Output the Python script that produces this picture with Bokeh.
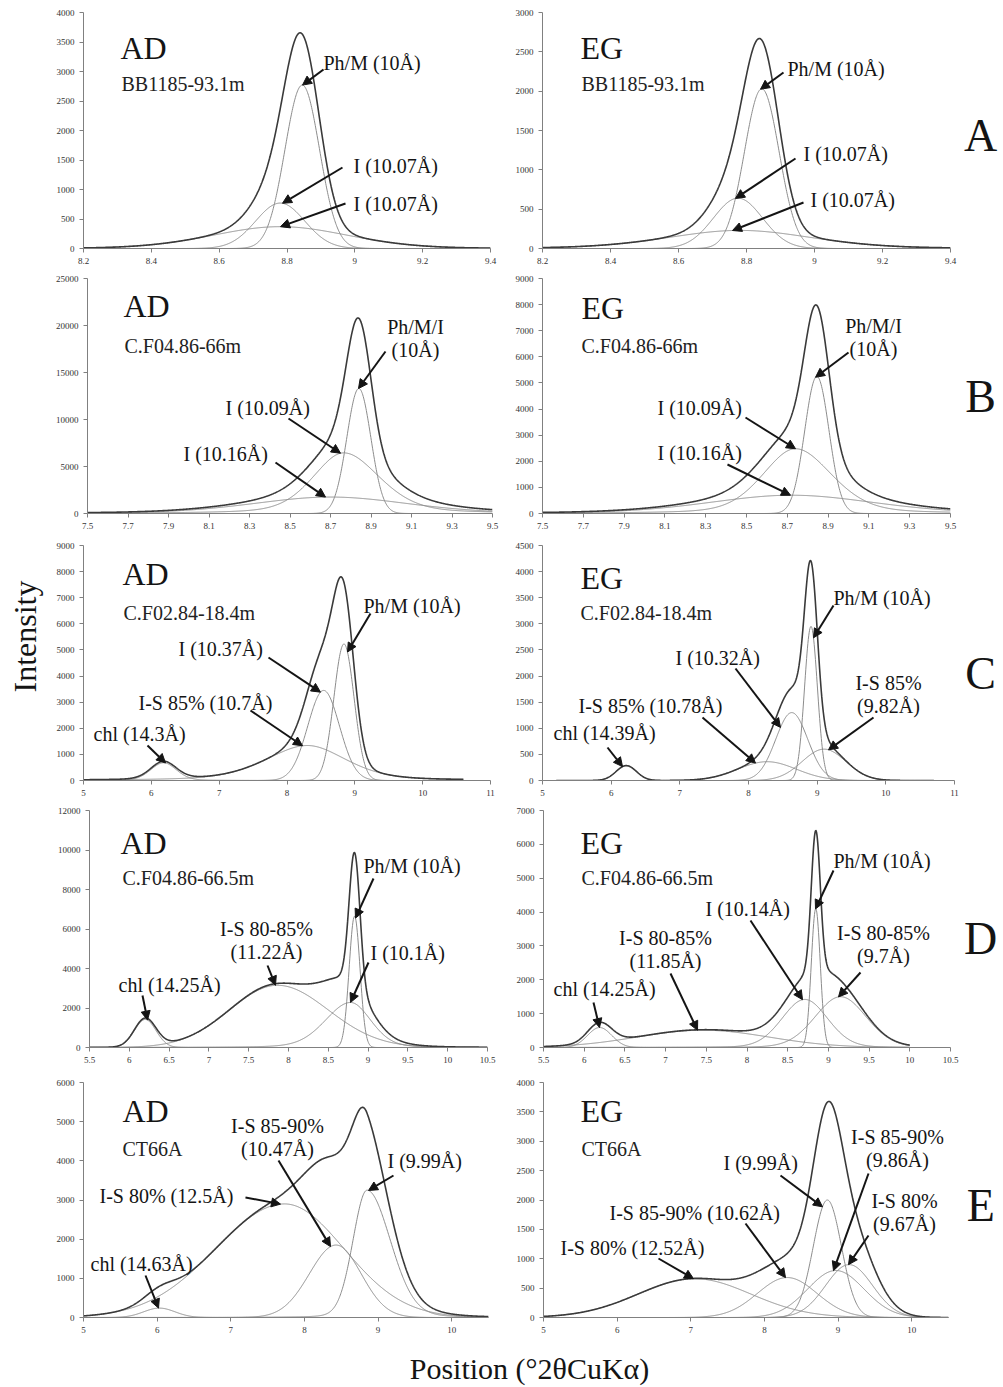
import numpy as np
from bokeh.plotting import figure
from bokeh.layouts import column, row
from bokeh.models import (Range1d, FixedTicker, NumeralTickFormatter, Arrow,
                          NormalHead, ColumnDataSource, Label)
from bokeh.core.properties import value
from bokeh.embed import file_html
from bokeh.resources import INLINE

SERIF = "Liberation Serif"

# ---------------------------------------------------------------------------
# Fitted peak components per sample: (position °2θ, height, FWHM left side,
# FWHM right side, Lorentzian fraction).  AD = air dried, EG = glycolated.
# ---------------------------------------------------------------------------

# Sample A -----------------------------------------------------------------
A_SAMPLE = "BB1185-93.1m"
A_X_RANGE = (8.2, 9.4)
A_X_TICKS = [8.2, 8.4, 8.6, 8.8, 9.0, 9.2, 9.4]
A_AD_SCAN = (8.2, 9.4)
A_AD_Y_TICKS = [0, 500, 1000, 1500, 2000, 2500, 3000, 3500, 4000]
A_AD_LABELS = ["Ph/M (10Å)", "I (10.07Å)", "I (10.07Å)"]
A_AD_PEAKS = [(8.845, 2770, 0.12, 0.12, 0.0),
              (8.78, 770, 0.17, 0.17, 0.0),
              (8.78, 370, 0.47, 0.47, 0.1)]
A_EG_SCAN = (8.2, 9.4)
A_EG_Y_TICKS = [0, 500, 1000, 1500, 2000, 2500, 3000]
A_EG_LABELS = ["Ph/M (10Å)", "I (10.07Å)", "I (10.07Å)"]
A_EG_PEAKS = [(8.845, 2030, 0.12, 0.12, 0.0),
              (8.775, 640, 0.17, 0.17, 0.0),
              (8.78, 230, 0.50, 0.50, 0.2)]

# Sample B -----------------------------------------------------------------
B_SAMPLE = "C.F04.86-66m"
B_X_RANGE = (7.5, 9.5)
B_X_TICKS = [7.5, 7.7, 7.9, 8.1, 8.3, 8.5, 8.7, 8.9, 9.1, 9.3, 9.5]
B_AD_SCAN = (7.5, 9.5)
B_AD_Y_TICKS = [0, 5000, 10000, 15000, 20000, 25000]
B_AD_LABELS = ["Ph/M/I\n(10Å)", "I (10.09Å)", "I (10.16Å)"]
B_AD_PEAKS = [(8.84, 13300, 0.14, 0.14, 0.0),
              (8.765, 6450, 0.36, 0.42, 0.35),
              (8.70, 1750, 0.90, 0.90, 0.2)]
B_EG_SCAN = (7.5, 9.5)
B_EG_Y_TICKS = [0, 1000, 2000, 3000, 4000, 5000, 6000, 7000, 8000, 9000]
B_EG_LABELS = ["Ph/M/I\n(10Å)", "I (10.09Å)", "I (10.16Å)"]
B_EG_PEAKS = [(8.845, 5250, 0.14, 0.14, 0.0),
              (8.74, 2480, 0.38, 0.42, 0.3),
              (8.72, 700, 0.95, 0.95, 0.2)]

# Sample C -----------------------------------------------------------------
C_SAMPLE = "C.F02.84-18.4m"
C_X_RANGE = (5, 11)
C_X_TICKS = [5, 6, 7, 8, 9, 10, 11]
C_AD_SCAN = (5.0, 10.6)
C_AD_Y_TICKS = [0, 1000, 2000, 3000, 4000, 5000, 6000, 7000, 8000, 9000]
C_AD_LABELS = ["Ph/M (10Å)", "I (10.37Å)", "I-S 85% (10.7Å)", "chl (14.3Å)"]
C_AD_PEAKS = [(8.84, 5230, 0.35, 0.35, 0.0),
              (8.54, 3450, 0.55, 0.55, 0.0),
              (8.30, 1340, 1.45, 1.35, 0.4),
              (6.18, 680, 0.45, 0.45, 0.2)]
C_EG_SCAN = (5.2, 10.7)
C_EG_Y_TICKS = [0, 500, 1000, 1500, 2000, 2500, 3000, 3500, 4000, 4500]
C_EG_LABELS = ["Ph/M (10Å)", "I (10.32Å)", "I-S 85%\n(9.82Å)",
               "I-S 85% (10.78Å)", "chl (14.39Å)"]
C_EG_PEAKS = [(8.91, 2950, 0.22, 0.22, 0.0),
              (8.63, 1300, 0.55, 0.55, 0.0),
              (9.10, 600, 0.75, 0.75, 0.0),
              (8.27, 360, 1.00, 1.00, 0.0),
              (6.22, 285, 0.35, 0.35, 0.0)]

# Sample D -----------------------------------------------------------------
D_SAMPLE = "C.F04.86-66.5m"
D_X_RANGE = (5.5, 10.5)
D_X_TICKS = [5.5, 6, 6.5, 7, 7.5, 8, 8.5, 9, 9.5, 10, 10.5]
D_AD_SCAN = (5.5, 10.5)
D_AD_Y_TICKS = [0, 2000, 4000, 6000, 8000, 10000, 12000]
D_AD_LABELS = ["Ph/M (10Å)", "I (10.1Å)", "I-S 80-85%\n(11.22Å)", "chl (14.25Å)"]
D_AD_PEAKS = [(8.83, 6650, 0.16, 0.16, 0.0),
              (8.78, 2280, 0.75, 0.60, 0.2),
              (7.86, 3150, 1.40, 1.50, 0.0),
              (6.20, 1420, 0.32, 0.32, 0.0)]
D_EG_SCAN = (5.5, 10.0)
D_EG_Y_TICKS = [0, 1000, 2000, 3000, 4000, 5000, 6000, 7000]
D_EG_LABELS = ["Ph/M (10Å)", "I (10.14Å)", "I-S 80-85%\n(9.7Å)",
               "I-S 80-85%\n(11.85Å)", "chl (14.25Å)"]
D_EG_PEAKS = [(8.845, 4100, 0.13, 0.13, 0.0),
              (8.71, 1420, 0.66, 0.66, 0.1),
              (9.15, 1500, 0.74, 0.74, 0.1),
              (7.46, 510, 1.90, 1.90, 0.0),
              (6.19, 590, 0.35, 0.35, 0.0)]

# Sample E -----------------------------------------------------------------
E_SAMPLE = "CT66A"
E_X_RANGE = (5, 10.5)
E_X_TICKS = [5, 6, 7, 8, 9, 10]
E_AD_SCAN = (5.0, 10.5)
E_AD_Y_TICKS = [0, 1000, 2000, 3000, 4000, 5000, 6000]
E_AD_LABELS = ["I (9.99Å)", "I-S 85-90%\n(10.47Å)", "I-S 80% (12.5Å)", "chl (14.63Å)"]
E_AD_PEAKS = [(8.85, 3250, 0.45, 0.75, 0.1),
              (8.43, 1850, 0.85, 0.80, 0.0),
              (7.73, 2900, 2.20, 1.90, 0.0),
              (6.03, 240, 0.50, 0.50, 0.0)]
E_EG_SCAN = (5.0, 10.5)
E_EG_Y_TICKS = [0, 500, 1000, 1500, 2000, 2500, 3000, 3500, 4000]
E_EG_LABELS = ["I (9.99Å)", "I-S 85-90%\n(9.86Å)", "I-S 80%\n(9.67Å)",
               "I-S 85-90% (10.62Å)", "I-S 80% (12.52Å)"]
E_EG_PEAKS = [(8.855, 2000, 0.45, 0.45, 0.0),
              (8.97, 800, 0.90, 0.90, 0.0),
              (9.15, 900, 0.75, 0.75, 0.0),
              (8.31, 680, 0.95, 0.95, 0.0),
              (7.05, 660, 1.80, 1.80, 0.0)]

ROW_LETTERS = ["A", "B", "C", "D", "E"]
Y_TITLE = "Intensity"
X_TITLE = "Position (°2θCuKα)"

# ---------------------------------------------------------------------------
# Page layout (pixels).  Rows: border top, frame height, border bottom,
# letter position (fraction of row height from the bottom).
# ---------------------------------------------------------------------------
ROW_LAYOUT = {
    "A": dict(top=12, fh=236, bottom=22, letter_y=0.478),
    "B": dict(top=8, fh=235, bottom=22, letter_y=0.498),
    "C": dict(top=10, fh=235, bottom=21, letter_y=0.455),
    "D": dict(top=9, fh=237, bottom=21, letter_y=0.461),
    "E": dict(top=14, fh=235, bottom=23, letter_y=0.478),
}
TITLE_WIDTH = 46
AD_WIDTH, EG_WIDTH, LETTER_WIDTH, BOTTOM_HEIGHT = 464, 450, 43, 47
Y_TITLE_CENTER = (24, 636)   # px, within the left strip / page

# Annotation layout per panel, offsets in px from the frame's top-left corner.
# note = (component index, text anchor, text align, arrow tail, arrow tip x)
PANEL_LAYOUT = {
    "A_AD": dict(left=37, fw=407, head=(37, 35), sample=(38, 71), notes=[
        (0, (240, 50), "left", (240, 57), 219),
        (1, (270, 153), "left", (259, 155), 199),
        (2, (270, 191), "left", (262, 191), 197)]),
    "A_EG": dict(left=32, fw=408, head=(38, 35), sample=(39, 71), notes=[
        (0, (245, 56), "left", (241, 60), 218),
        (1, (261, 141), "left", (253, 146), 193),
        (2, (268, 187), "left", (261, 190), 190)]),
    "B_AD": dict(left=41, fw=405, head=(36, 27), sample=(37, 67), notes=[
        (0, (328, 48), "center", (298, 73), 271),
        (1, (138, 129), "left", (201, 140), 253),
        (2, (96, 175), "left", (188, 184), 238)]),
    "B_EG": dict(left=32, fw=408, head=(39, 29), sample=(39, 67), notes=[
        (0, (331, 47), "center", (306, 74), 273),
        (1, (115, 129), "left", (203, 139), 253),
        (2, (115, 174), "left", (185, 186), 248)]),
    "C_AD": dict(left=37, fw=407, head=(39, 28), sample=(40, 67), notes=[
        (0, (280, 60), "left", (287, 68), 264),
        (1, (95, 103), "left", (185, 112), 237),
        (2, (55, 157), "left", (167, 165), 219),
        (3, (10, 188), "left", (64, 200), 82)]),
    "C_EG": dict(left=32, fw=412, head=(38, 32), sample=(38, 67), notes=[
        (0, (291, 52), "left", (291, 60), 271),
        (1, (133, 112), "left", (193, 123), 238),
        (2, (346, 137), "center", (331, 172), 286),
        (3, (36, 160), "left", (160, 172), 213),
        (4, (11, 187), "left", (65, 202), 80)]),
    "D_AD": dict(left=43, fw=398, head=(31, 32), sample=(33, 67), notes=[
        (0, (274, 55), "left", (284, 68), 266),
        (1, (281, 142), "left", (279, 152), 261),
        (2, (177, 118), "center", (178, 155), 186),
        (3, (29, 174), "left", (53, 185), 58)]),
    "D_EG": dict(left=33, fw=407, head=(37, 32), sample=(38, 67), notes=[
        (0, (290, 50), "left", (290, 60), 272),
        (1, (162, 98), "left", (207, 110), 259),
        (2, (340, 122), "center", (317, 162), 295),
        (3, (122, 127), "center", (127, 163), 154),
        (4, (10, 178), "left", (50, 192), 56)]),
    "E_AD": dict(left=37, fw=405, head=(39, 28), sample=(39, 66), notes=[
        (0, (304, 78), "left", (310, 93), 285),
        (1, (194, 43), "center", (195, 78), 247),
        (2, (16, 113), "left", (162, 115), 197),
        (3, (7, 181), "left", (62, 193), 75)]),
    "E_EG": dict(left=33, fw=405, head=(37, 28), sample=(38, 66), notes=[
        (0, (180, 80), "left", (237, 93), 279),
        (1, (354, 54), "center", (325, 91), 290),
        (2, (361, 118), "center", (325, 153), 305),
        (3, (66, 130), "left", (202, 141), 242),
        (4, (17, 165), "left", (115, 176), 150)]),
}

LINE_GAP = 23
TOTAL_COLOR = "#3a3a3a"
COMP_COLOR = "#8c8c8c"
AXIS_COLOR = "#808080"
INK = "#141414"


def profile(x, pos, height, fwhm_l, fwhm_r, eta):
    """Split pseudo-Voigt peak."""
    w = np.where(x < pos, fwhm_l, fwhm_r)
    u = 2.0 * (x - pos) / w
    return height * ((1.0 - eta) * np.exp(-np.log(2.0) * u * u) + eta / (1.0 + u * u))


def style_axis(ax, ticks, fmt):
    ax.ticker = FixedTicker(ticks=ticks)
    ax.formatter = NumeralTickFormatter(format=fmt)
    ax.axis_line_color = AXIS_COLOR
    ax.major_tick_line_color = AXIS_COLOR
    ax.major_tick_out = 4
    ax.major_tick_in = 0
    ax.minor_tick_line_color = None
    ax.major_label_text_font = SERIF
    ax.major_label_text_font_size = "9px"
    ax.major_label_text_color = "#333333"
    ax.major_label_standoff = 5


def blank_figure(width, height):
    p = figure(width=width, height=height, x_range=Range1d(0, width),
               y_range=Range1d(0, height), x_axis_type=None, y_axis_type=None,
               min_border=0, output_backend="svg", toolbar_location=None)
    p.outline_line_color = None
    p.grid.visible = False
    return p


def make_panel(key, head, sample, x_range, x_ticks, y_ticks, scan, peaks, labels,
               rowkey, total_width):
    lay = PANEL_LAYOUT[key]
    rl = ROW_LAYOUT[rowkey]
    fh = rl["fh"]
    p = figure(frame_width=lay["fw"], frame_height=fh,
               x_range=Range1d(*x_range), y_range=Range1d(0, y_ticks[-1]),
               min_border_left=lay["left"],
               min_border_right=total_width - lay["left"] - lay["fw"],
               min_border_top=rl["top"], min_border_bottom=rl["bottom"],
               output_backend="svg", toolbar_location=None)
    p.outline_line_color = None
    p.xgrid.visible = False
    p.ygrid.visible = False
    style_axis(p.xaxis[0], x_ticks, "0.[0]")
    style_axis(p.yaxis[0], y_ticks, "0")

    x0, x1 = x_range
    ymax = y_ticks[-1]

    def fx(dx):
        return x0 + dx / lay["fw"] * (x1 - x0)

    def fy(dy):
        return ymax - dy / fh * ymax

    xs = np.linspace(scan[0], scan[1], 900)
    comps = [profile(xs, *pk) for pk in peaks]
    for c in comps:
        p.line(xs, c, line_color=COMP_COLOR, line_width=1.0)
    p.line(xs, np.sum(comps, axis=0), line_color=TOTAL_COLOR, line_width=1.6)

    # panel heading and sample name
    p.text(x=[fx(lay["head"][0])], y=[fy(lay["head"][1])], text=[head],
           text_font=value(SERIF), text_font_size="32px", text_color=INK,
           text_align="left", text_baseline="middle")
    p.text(x=[fx(lay["sample"][0])], y=[fy(lay["sample"][1])], text=[sample],
           text_font=value(SERIF), text_font_size="20px", text_color="#222222",
           text_align="left", text_baseline="middle")

    # component labels with arrows
    tx, ty, tt, ta = [], [], [], []
    for idx, (ax_, ay_), align, (tlx, tly), tip_dx in lay["notes"]:
        for i, line in enumerate(labels[idx].split("\n")):
            tx.append(fx(ax_))
            ty.append(fy(ay_ + i * LINE_GAP))
            tt.append(line)
            ta.append(align)
        tip_x = fx(tip_dx)
        tip_y = float(profile(np.array([tip_x]), *peaks[idx])[0])
        p.add_layout(Arrow(x_start=fx(tlx), y_start=fy(tly), x_end=tip_x, y_end=tip_y,
                           line_color=INK, line_width=2,
                           end=NormalHead(size=9, fill_color=INK, line_color=INK)))
    src = ColumnDataSource(dict(x=tx, y=ty, text=tt, align=ta))
    p.text(x="x", y="y", text="text", text_align="align", source=src,
           text_font=value(SERIF), text_font_size="20px", text_color=INK,
           text_baseline="middle")
    return p


def letter_panel(letter, rowkey):
    rl = ROW_LAYOUT[rowkey]
    h = rl["top"] + rl["fh"] + rl["bottom"]
    p = blank_figure(LETTER_WIDTH, h)
    p.text(x=[0.47 * LETTER_WIDTH], y=[rl["letter_y"] * h], text=[letter],
           text_font=value(SERIF), text_font_size="46px", text_color=INK,
           text_align="center", text_baseline="middle")
    return p


SAMPLES = {
    "A": (A_SAMPLE, A_X_RANGE, A_X_TICKS,
          (A_AD_Y_TICKS, A_AD_SCAN, A_AD_PEAKS, A_AD_LABELS),
          (A_EG_Y_TICKS, A_EG_SCAN, A_EG_PEAKS, A_EG_LABELS)),
    "B": (B_SAMPLE, B_X_RANGE, B_X_TICKS,
          (B_AD_Y_TICKS, B_AD_SCAN, B_AD_PEAKS, B_AD_LABELS),
          (B_EG_Y_TICKS, B_EG_SCAN, B_EG_PEAKS, B_EG_LABELS)),
    "C": (C_SAMPLE, C_X_RANGE, C_X_TICKS,
          (C_AD_Y_TICKS, C_AD_SCAN, C_AD_PEAKS, C_AD_LABELS),
          (C_EG_Y_TICKS, C_EG_SCAN, C_EG_PEAKS, C_EG_LABELS)),
    "D": (D_SAMPLE, D_X_RANGE, D_X_TICKS,
          (D_AD_Y_TICKS, D_AD_SCAN, D_AD_PEAKS, D_AD_LABELS),
          (D_EG_Y_TICKS, D_EG_SCAN, D_EG_PEAKS, D_EG_LABELS)),
    "E": (E_SAMPLE, E_X_RANGE, E_X_TICKS,
          (E_AD_Y_TICKS, E_AD_SCAN, E_AD_PEAKS, E_AD_LABELS),
          (E_EG_Y_TICKS, E_EG_SCAN, E_EG_PEAKS, E_EG_LABELS)),
}

rows = []
for letter in ROW_LETTERS:
    sample, xr, xt, ad, eg = SAMPLES[letter]
    p_ad = make_panel(f"{letter}_AD", "AD", sample, xr, xt, ad[0], ad[1], ad[2], ad[3],
                      letter, AD_WIDTH)
    p_eg = make_panel(f"{letter}_EG", "EG", sample, xr, xt, eg[0], eg[1], eg[2], eg[3],
                      letter, EG_WIDTH)
    rows.append(row(p_ad, p_eg, letter_panel(letter, letter)))

# shared y-axis title in a narrow strip along the left edge
grid_height = sum(r["top"] + r["fh"] + r["bottom"] for r in ROW_LAYOUT.values())
y_title = blank_figure(TITLE_WIDTH, grid_height)
y_title.add_layout(Label(x=Y_TITLE_CENTER[0], y=grid_height - Y_TITLE_CENTER[1],
                         text=Y_TITLE, angle=np.pi / 2, text_font=SERIF,
                         text_font_size="32px", text_color=INK,
                         text_align="center", text_baseline="middle"))

# shared x-axis title along the bottom
page_width = TITLE_WIDTH + AD_WIDTH + EG_WIDTH + LETTER_WIDTH
x_title = blank_figure(page_width, BOTTOM_HEIGHT)
x_title.text(x=[529], y=[19], text=[X_TITLE], text_font=value(SERIF),
             text_font_size="30px", text_color=INK, text_align="center",
             text_baseline="middle")

page = column(row(y_title, column(*rows)), x_title)
open("out.html", "w").write(file_html(page, INLINE, title="XRD decomposition"))
